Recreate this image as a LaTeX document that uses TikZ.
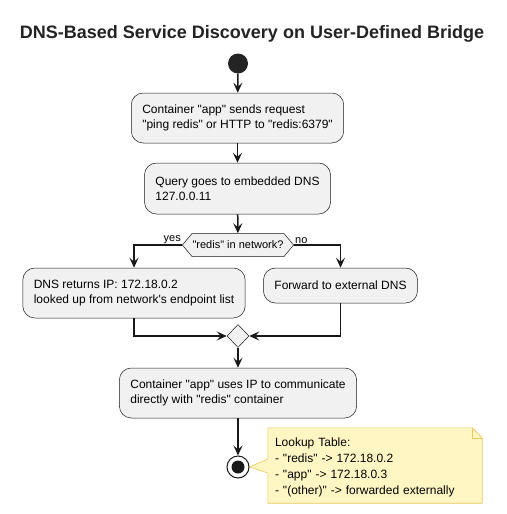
\documentclass[tikz,border=0pt]{standalone}
\usepackage{fontspec}
\setmainfont{Liberation Sans}[Ligatures=TeXOff]
\usetikzlibrary{arrows.meta,shapes.symbols,shapes.geometric,calc,backgrounds}
\definecolor{boxfill}{HTML}{F1F1F1}
\definecolor{linecol}{HTML}{181818}
\definecolor{notefill}{HTML}{FFF6C4}
\definecolor{noteline}{HTML}{EBC75C}
\tikzstyle{act}=[draw=linecol,line width=0.5pt,fill=boxfill,rounded corners=12pt,align=left,inner xsep=11pt,inner ysep=0pt,font=\fontsize{12}{15}\selectfont,minimum height=50pt]
\tikzstyle{twoline}=[execute at begin node=\rule{0pt}{13.7pt}]
\tikzstyle{flow}=[draw=linecol,line width=1.5pt,-{Stealth[length=10pt,width=9pt,inset=4pt]}]
\tikzstyle{choice}=[draw=linecol,line width=0.5pt,fill=boxfill,signal,signal to=west and east,signal pointer angle=100,inner xsep=0.5pt,inner ysep=0pt,minimum height=23pt,font=\fontsize{11}{13}\selectfont]
\tikzstyle{branch}=[font=\fontsize{11}{13}\selectfont,inner sep=1pt]

\begin{document}
\begin{tikzpicture}[x=1pt,y=-1pt]
\useasboundingbox (0,0) rectangle (506,514);
\begin{scope}[on background layer]
\fill[white] (0,0) rectangle (506,514);
\end{scope}
\node[font=\fontsize{18}{20}\selectfont\bfseries,text=linecol!95!white] (title) at (252,34) {DNS-Based Service Discovery on User-Defined Bridge};
\node[circle,fill=linecol!95!white,minimum size=20pt,inner sep=0pt] (start) at (238,63.5) {};
\node[act,twoline] (req) at (237.5,118) {Container "app" sends request\\"ping redis" or HTTP to "redis:6379"};
\node[act,twoline,minimum height=51pt] (query) at (237.5,188.5) {Query goes to embedded DNS\\127.0.0.11};
\node[choice] (dec) at (238,245) {"redis" in network?};
\node[act,twoline] (found) at (134,293) {DNS returns IP: 172.18.0.2\\looked up from network's endpoint list};
\node[act,minimum height=35pt] (fwd) at (340.5,285.5) {Forward to external DNS};
\node[diamond,draw=linecol,line width=0.5pt,fill=boxfill,minimum width=22pt,minimum height=23pt,inner sep=0pt] (merge) at (238,336) {};
\node[act,twoline] (use) at (238,393) {Container "app" uses IP to communicate\\directly with "redis" container};
\node[circle,draw=linecol,line width=1pt,fill=white,minimum size=22pt,inner sep=0pt] (end) at (238,467) {};
\fill[linecol] (end.center) circle (6.5);
\node[anchor=south east,branch] (yes) at (dec.west) {yes};
\node[anchor=south west,branch] (no) at (dec.east) {no};
\draw[flow] (start) -- (req);
\draw[flow] (req) -- (query);
\draw[flow] (query) -- (dec);
\draw[flow] (dec.west) -| (found.north);
\draw[flow] (dec.east) -| (fwd.north);
\draw[flow] (found.south) |- (merge.west);
\draw[flow] (fwd.south) |- (merge.east);
\draw[flow] (merge) -- (use);
\draw[flow] (use) -- (end);
\node[align=left,text width=200pt,inner xsep=7pt,inner ysep=0pt,minimum height=75pt,font=\fontsize{12}{16}\selectfont,execute at begin node=\rule{0pt}{11.7pt}] (note) at (375,465.5) {Lookup Table:\\- "redis" -> 172.18.0.2\\- "app" -> 172.18.0.3\\- "(other)" -> forwarded externally};
\begin{scope}[on background layer]
\draw[fill=notefill,draw=noteline,line width=0.6pt,line join=miter] (note.north west) -- ($(note.north east)+(-10,0)$) -- ($(note.north east)+(0,10)$) -- (note.south east) -- (note.south west) -- ($(note.west)+(0,7.5)$) -- (end.east) -- ($(note.west)+(0,-6.5)$) -- cycle;
\draw[draw=noteline,line width=0.6pt] ($(note.north east)+(-10,0)$) -- ($(note.north east)+(-10,10)$) -- ($(note.north east)+(0,10)$);
\end{scope}
\end{tikzpicture}
\end{document}
